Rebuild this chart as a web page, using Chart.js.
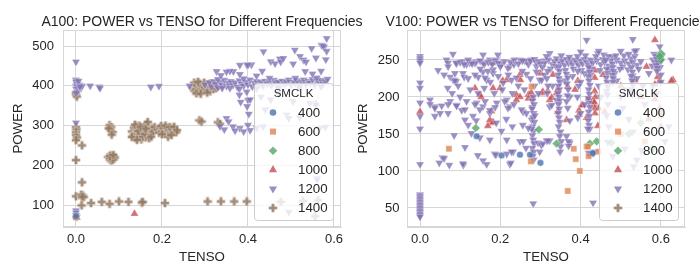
<!DOCTYPE html>
<html><head><meta charset="utf-8">
<script src="https://cdn.jsdelivr.net/npm/chart.js@4/dist/chart.umd.min.js"></script>
<style>
html,body{margin:0;padding:0;background:#fff;}
#wrap{position:relative;width:700px;height:280px;overflow:hidden;}
canvas{position:absolute;top:0;}
#c1{left:0;} #c2{left:350px;}
</style></head><body>
<div id="wrap"><canvas id="c1" width="370" height="280"></canvas><canvas id="c2" width="350" height="280"></canvas></div>
<script>
// ---------- data ----------
const SMCLK_LEVELS = ['400','600','800','1000','1200','1400'];
const X_TICKS = [0.0, 0.2, 0.4, 0.6];
const A100_Y_TICKS = [100, 200, 300, 400, 500];
const V100_Y_TICKS = [50, 100, 150, 200, 250];
const A100_TITLE = 'A100: POWER vs TENSO for Different Frequencies';
const V100_TITLE = 'V100: POWER vs TENSO for Different Frequencies';

// A100  [TENSO, POWER]
const A100_400 = [[0,72]];
const A100_600 = [[0,69]];
const A100_800 = [[0,70]];
const A100_1000 = [[0,72],[0.002,68],[0.136,78],[0.558,355]];
const A100_1200 = [
[0,460],[0,415],[0,410],[0.002,405],[0,400],[0.003,396],[0,392],[0.005,388],[0.008,402],[0.01,398],[0.012,395],[0.004,385],[0,382],[0.014,400],[0.006,412],[0.009,398],[0,307],[0,86],[0,80],[0,74],[0.002,70],
[0.033,400],[0.054,397],[0.056,394],[0.174,397],[0.193,399],[0.264,400],
[0.30,403],[0.31,408],[0.315,398],[0.32,411],[0.325,404],[0.33,396],[0.335,409],[0.34,402],[0.345,414],[0.35,399],[0.355,407],[0.36,411],[0.365,401],[0.37,408],[0.375,397],[0.38,413],[0.385,405],[0.39,400],[0.395,410],[0.40,403],[0.405,415],[0.41,398],[0.415,407],[0.42,411],[0.425,402],[0.43,409],[0.435,399],[0.44,412],[0.445,405],[0.45,408],[0.455,401],[0.46,414],[0.465,406],[0.47,410],[0.475,399],[0.48,412],[0.485,404],[0.49,409],[0.495,415],[0.50,402],[0.505,410],[0.51,406],[0.515,413],[0.52,400],[0.525,409],[0.53,415],[0.535,404],[0.54,411],[0.545,407],[0.55,416],[0.555,402],[0.56,412],[0.565,408],[0.57,414],[0.575,405],[0.58,411],[0.585,417],[0.34,394],[0.38,392],[0.42,393],[0.47,395],[0.52,394],[0.57,398],[0.33,416],[0.39,418],[0.45,419],[0.51,419],[0.56,420],
[0.436,486],[0.397,453],[0.408,453],[0.366,436],[0.381,429],[0.327,436],[0.358,437],[0.453,461],[0.463,456],[0.474,468],[0.476,460],[0.509,490],[0.521,474],[0.529,465],[0.535,460],[0.548,494],[0.558,470],[0.571,502],[0.577,497],[0.581,466],[0.583,519],[0.575,500],[0.583,487],[0.482,469],[0.533,436],[0.433,437],[0.35,435],[0.57,437],[0.505,455],[0.42,425],[0.55,430],[0.381,452],[0.4,452],[0.337,426],
[0.358,394],[0.38,377],[0.397,385],[0.4,364],[0.405,365],[0.398,348],[0.402,329],[0.383,359],[0.453,365],[0.49,327],[0.505,361],[0.544,356],[0.558,352],[0.35,318],[0.355,310],[0.335,298],[0.365,297],[0.381,293],[0.4,301],[0.405,288],[0.42,294],[0.435,297],[0.495,318],[0.52,320],[0.567,293],[0.58,296],[0.56,167],[0.561,164],[0.495,82],[0.345,290],[0.37,287],[0.39,285],[0.44,340],[0.47,380],[0.43,372]
];
const A100_1400 = [
[0,378],[0,383],[0.002,373],[0,296],[0.001,290],[0,283],[0,276],[0.002,270],[0,263],[0.014,250],[0,213],[0.014,157],[0,122],[0.014,118],[0.016,124],[0.012,126],[0.018,120],[0.015,121],[0.013,99],[0.035,105],
[0.078,301],[0.082,296],[0.08,290],[0.085,284],[0.083,277],[0.076,293],
[0.075,221],[0.078,215],[0.08,225],[0.082,212],[0.084,219],[0.086,222],[0.088,216],[0.09,220],[0.08,218],[0.085,214],[0.079,223],[0.087,226],
[0.13,285],[0.133,275],[0.135,295],[0.138,268],[0.14,280],[0.142,290],[0.145,272],[0.147,300],[0.15,283],[0.152,265],[0.155,292],[0.157,277],[0.16,287],[0.162,270],[0.164,303],[0.165,281],[0.168,295],[0.17,275],[0.172,288],[0.175,280],[0.177,293],[0.14,298],[0.148,276],[0.158,296],[0.167,309],[0.137,302],[0.155,272],[0.145,286],[0.16,279],[0.17,268],[0.15,297],[0.162,292],[0.13,271],[0.142,264],[0.175,272],[0.18,285],[0.183,296],
[0.19,290],[0.193,282],[0.196,295],[0.2,286],[0.203,291],[0.206,279],[0.21,294],[0.213,285],[0.216,289],[0.22,281],[0.223,292],[0.226,286],[0.23,290],[0.233,283],[0.198,299],[0.208,300],[0.218,296],[0.228,297],[0.214,272],[0.235,288],[0.2,278],[0.222,276],
[0.272,395],[0.275,388],[0.278,402],[0.28,392],[0.283,398],[0.285,385],[0.288,405],[0.29,393],[0.293,400],[0.296,389],[0.3,396],[0.303,403],[0.306,391],[0.309,398],[0.312,386],[0.315,395],[0.318,401],[0.32,392],[0.323,399],[0.326,394],[0.329,400],[0.28,381],[0.29,380],[0.305,383],[0.275,408],[0.298,408],[0.31,405],[0.284,410],
[0.287,313],[0.292,310],[0.33,308],[0.335,304],
[0.06,108],[0.078,103],[0.1,109],[0.122,108],[0.153,106],[0.155,108],[0.207,105],[0.306,109],[0.337,109],[0.368,109],[0.397,109],[0.476,108],[0.528,110],[0.563,112],[0.556,72]
];

// V100  [TENSO, POWER]
const V100_400 = [[0.141,147],[0.203,121],[0.249,122],[0.274,122],[0.3,111],[0.43,124]];
const V100_600 = [[0.278,214],[0.072,130],[0.276,113],[0.383,130],[0.388,116],[0.398,100],[0.368,73],[0.415,133],[0.42,120],[0.445,126],[0.418,133],[0.5,150],[0.56,140],[0.6,175]];
const V100_800 = [[0.139,158],[0.296,156],[0.34,137],[0.423,137],[0.44,140],[0.6,259],[0.6,250],[0.597,255],[0.477,138],[0.52,150],[0.55,165],[0.58,130]];
const V100_1000 = [
[0,180],[0.18,246],[0.137,212],[0.149,203],[0.152,200],[0.199,212],[0.206,222],[0.178,181],[0.178,165],[0.169,161],[0.249,230],[0.25,223],[0.24,203],[0.249,200],[0.27,203],[0.27,198],[0.277,206],[0.3,232],[0.303,205],[0.28,198],[0.182,212],[0.216,223],[0.24,196],[0.306,207],[0.331,230],[0.34,205],[0.323,196],[0.328,199],[0.368,214],[0.396,182],[0.396,176],[0.403,189],[0.436,236],[0.433,190],[0.456,230],[0.43,195],[0.445,185],[0.46,180],[0.535,223],[0.564,241],[0.585,277],[0.59,241],[0.592,227],[0.597,222],[0.63,223],[0.174,169],[0.182,166],[0.343,180],[0.365,169],[0.393,222],[0.435,226],[0.435,208],[0.437,200],[0.434,193],[0.405,189],[0.435,185],[0.436,178],[0.42,198],[0.386,210],[0.343,210],[0.318,208],[0.585,203],[0.585,197],[0.597,185],[0.585,217],[0.626,222],[0.415,172],[0.443,161],[0.57,170],[0.6,160],[0.55,200],[0.5,215]
];
const V100_1200 = [
[0,255],[0,252],[0,249],[0,246],[0,219],[0,212],[0,192],[0,174],[0,157],[0,109],
[0,68],[0,66],[0,64],[0,62],[0,60],[0,58],[0,56],[0,54],[0,52],[0,50],[0,48],[0,46],[0,44],[0,42],[0,40],[0,38],
[0.066,250],[0.07,246],[0.091,245],[0.07,241],[0.107,248],[0.045,236],[0.075,227],[0.083,223],[0.09,221],[0.124,246],[0.141,248],[0.157,257],[0.145,227],[0.157,234],[0.174,250],[0.19,250],[0.166,223],[0.182,232],[0.207,219],[0.224,241],[0.249,250],[0.265,248],[0.29,241],[0.323,259],[0.298,223],[0.348,248],[0.415,277],[0.443,259],[0.48,254],[0.53,278],[0.539,263],[0.597,268],[0.626,250],
[0.025,196],[0.037,187],[0.05,178],[0.075,194],[0.091,189],[0.104,182],[0.116,194],[0.141,192],[0.157,187],[0.174,178],[0.191,192],[0.216,196],[0.224,187],[0.257,180],[0.323,187],[0.34,196],[0.373,200],
[0.082,258],[0.09,246],[0.069,212],[0.087,232],[0.087,222],[0.107,232],[0.11,227],[0.116,244],[0.128,247],[0.137,246],[0.137,230],[0.157,246],[0.169,235],[0.162,226],[0.182,237],[0.187,249],[0.194,257],[0.203,244],[0.21,248],[0.219,239],[0.228,223],[0.234,244],[0.24,226],[0.261,249],[0.265,231],[0.277,250],[0.29,246],[0.31,249],[0.303,223],[0.29,234],
[0.025,190],[0.037,185],[0.037,174],[0.054,188],[0.07,190],[0.07,178],[0.091,188],[0.112,183],[0.112,169],[0.132,174],[0.137,190],[0.149,183],[0.162,194],[0.174,182],[0.187,186],[0.211,194],[0.219,185],[0.234,190],[0.253,183],[0.265,178],[0.278,169],[0.28,186],
[0.282,200],[0.28,195],[0.284,190],[0.279,184],[0.283,178],[0.281,172],[0.285,166],[0.28,160],[0.283,154],[0.28,148],[0.282,142],[0.284,137],[0.28,131],[0.283,126],[0.281,120],[0.283,115],[0.286,175],[0.278,157],
[0.31,246],[0.32,250],[0.33,244],[0.335,248],[0.34,252],[0.35,245],[0.355,249],[0.36,243],[0.365,251],[0.37,246],[0.375,248],[0.38,244],[0.385,250],[0.39,247],[0.395,243],[0.40,249],[0.405,245],[0.41,251],[0.415,247],[0.42,243],[0.425,250],[0.43,246],[0.44,249],[0.45,244],[0.455,251],[0.46,247],[0.47,242],[0.475,249],[0.48,245],[0.49,250],[0.5,246],[0.505,241],[0.51,249],[0.52,245],[0.525,252],[0.53,247],[0.54,243],[0.55,248],[0.58,250],[0.585,247],[0.59,253],[0.595,244],[0.6,249],[0.225,247],[0.235,250],[0.245,245],[0.255,249],[0.27,244],[0.275,249],[0.285,251],[0.295,248],[0.3,245],[0.1,247],[0.11,244],[0.12,250],[0.13,245],[0.15,249],[0.16,244],[0.17,247],[0.18,244],[0.195,246],[0.2,241],
[0.305,240],[0.315,255],[0.325,238],[0.338,242],[0.352,256],[0.362,236],[0.372,254],[0.382,238],[0.392,255],[0.402,236],[0.412,256],[0.428,238],[0.438,255],[0.448,236],[0.458,257],[0.472,236],[0.488,256],[0.498,238],[0.508,256],[0.518,237],[0.535,255],[0.545,238],[0.578,242],[0.583,258],[0.598,240],[0.603,256],[0.365,231],[0.425,230],[0.485,232],[0.53,229],[0.445,262],[0.5,262],[0.4,261],
[0.06,230],[0.08,205],[0.095,215],[0.1,200],[0.12,225],[0.125,210],[0.145,205],[0.15,238],[0.16,212],[0.175,220],[0.185,205],[0.195,228],[0.205,210],[0.22,230],[0.23,205],[0.245,215],[0.255,235],[0.26,210],[0.275,225],[0.285,215],[0.295,205],[0.31,230],[0.33,215],[0.36,222],[0.38,228],[0.4,220],[0.41,232],[0.445,215],[0.45,200],[0.49,222],[0.51,210],[0.54,225],[0.555,215],[0.57,232],[0.6,230],[0.6,220],
[0.345,240],[0.347,235],[0.344,230],[0.346,225],[0.348,220],[0.345,215],[0.347,210],[0.344,205],[0.346,200],[0.348,195],[0.345,190],[0.347,184],[0.344,178],[0.346,172],[0.348,166],[0.345,160],[0.35,153],[0.348,147],[0.352,140],[0.35,133],[0.349,126],
[0.42,240],[0.422,234],[0.419,228],[0.421,222],[0.423,216],[0.42,210],[0.422,204],[0.419,198],[0.421,192],[0.423,186],[0.42,180],[0.422,174],[0.419,168],[0.421,162],[0.423,157],[0.42,124],[0.418,157],
[0.465,238],[0.467,232],[0.464,226],[0.466,220],[0.468,214],[0.465,208],[0.467,203],[0.47,255],[0.462,250],
[0.468,190],[0.465,175],[0.47,160],[0.468,139],[0.5,200],[0.505,185],[0.53,153],[0.532,106],[0.552,128],[0.52,170],[0.56,190],[0.58,215],[0.59,205],[0.6,180],[0.62,160],[0.61,140],[0.48,120],[0.51,130],[0.54,115],
[0.527,240],[0.529,234],[0.526,228],[0.528,222],[0.53,216],[0.527,210],[0.529,204],[0.52,258],[0.535,262],
[0.588,255],[0.59,251],[0.592,247],[0.589,243],[0.591,239],[0.59,235],
[0.48,240],[0.482,235],[0.479,230],[0.481,225],[0.48,220],
[0.368,226],[0.366,218],[0.369,210],[0.367,202],[0.365,194],[0.368,185],
[0.393,172],[0.392,200],[0.395,215],[0.393,235],
[0.318,235],[0.316,225],[0.319,215],[0.317,205],
[0.085,148],[0.112,132],[0.128,151],[0.056,118],[0.048,111],[0.073,108],[0.108,108],[0.144,121],[0.157,114],[0.166,109],[0.149,145],[0.174,142],[0.186,123],[0.203,154],[0.216,142],[0.216,123],[0.224,109],[0.232,126],[0.249,140],[0.257,140],[0.264,131],[0.294,138],[0.302,135],[0.315,141],[0.282,56],[0.06,117],[0.107,110],[0.189,122],[0.226,111],[0.228,126],[0.298,126],[0.306,137],[0.323,141],[0.373,138],[0.431,57],[0.431,124],[0.318,141],[0.365,147],[0.37,140],[0.37,134],[0.423,124],[0.435,126],
[0.12,162],[0.256,162],[0.27,158],[0.14,168],[0.19,165],[0.23,160],[0.215,170],[0.328,189],[0.373,168],[0.4,178],[0.41,190]
];
const V100_1400 = [];

// ---------- styling ----------
const FONT = "'Liberation Sans', Arial, Helvetica, sans-serif";
const TXT = '#262626';
const GRID = '#d6d6d6';
const STY = {
  '400':  {rgb:'76,114,176',  shape:'circle',   r:3.3, rot:0, order:0},
  '600':  {rgb:'221,132,82',  shape:'rect',     r:4.3, rot:0, order:1},
  '800':  {rgb:'85,168,104',  shape:'rectRot',  r:4.3, rot:0, order:2},
  '1000': {rgb:'196,78,82',   shape:'triangle', r:4.7, rot:0, order:4},
  '1200': {rgb:'129,114,179', shape:'triangle', r:4.7, rot:180, order:3},
  '1400': {rgb:'147,120,96',  shape:'plus',     r:4.5, rot:0, order:5}
};
function plusPath(g, cx, cy, a, t) {
  g.beginPath();
  g.moveTo(cx - t, cy - a); g.lineTo(cx + t, cy - a); g.lineTo(cx + t, cy - t);
  g.lineTo(cx + a, cy - t); g.lineTo(cx + a, cy + t); g.lineTo(cx + t, cy + t);
  g.lineTo(cx + t, cy + a); g.lineTo(cx - t, cy + a); g.lineTo(cx - t, cy + t);
  g.lineTo(cx - a, cy + t); g.lineTo(cx - a, cy - t); g.lineTo(cx - t, cy - t);
  g.closePath();
}
function plusCanvas(rgb) {
  const c = document.createElement('canvas');
  c.width = 10; c.height = 10;
  const g = c.getContext('2d');
  plusPath(g, 5, 5, 4.3, 1.6);
  g.fillStyle = 'rgba(' + rgb + ',0.85)'; g.fill();
  g.strokeStyle = 'rgba(255,255,255,0.6)'; g.lineWidth = 0.5; g.stroke();
  return c;
}
const PLUS_IMG = plusCanvas(STY['1400'].rgb);

function makeDatasets(seriesList) {
  return SMCLK_LEVELS.map((lvl, i) => {
    const s = STY[lvl];
    return {
      label: lvl,
      order: s.order,
      data: seriesList[i].map(p => ({x: p[0], y: p[1]})),
      pointStyle: s.shape === 'plus' ? PLUS_IMG : s.shape,
      pointRadius: s.r,
      pointRotation: s.rot,
      backgroundColor: 'rgba(' + s.rgb + ',0.8)',
      borderColor: 'rgba(255,255,255,0.6)',
      borderWidth: 0.5,
      showLine: false
    };
  });
}

function drawMarker(ctx, lvl, x, y) {
  const s = STY[lvl];
  ctx.save();
  ctx.fillStyle = 'rgba(' + s.rgb + ',0.8)';
  ctx.beginPath();
  if (s.shape === 'circle') { ctx.arc(x, y, s.r, 0, Math.PI * 2); }
  else if (s.shape === 'rect') { const h = s.r * Math.SQRT1_2; ctx.rect(x - h, y - h, 2 * h, 2 * h); }
  else if (s.shape === 'rectRot') { ctx.moveTo(x, y - s.r); ctx.lineTo(x + s.r, y); ctx.lineTo(x, y + s.r); ctx.lineTo(x - s.r, y); ctx.closePath(); }
  else if (s.shape === 'triangle') {
    const d = s.rot ? -1 : 1;
    ctx.moveTo(x, y - d * s.r);
    ctx.lineTo(x + s.r * 0.866, y + d * s.r * 0.5);
    ctx.lineTo(x - s.r * 0.866, y + d * s.r * 0.5);
    ctx.closePath();
  } else { ctx.drawImage(PLUS_IMG, x - 5, y - 5); ctx.restore(); return; }
  ctx.fill();
  ctx.restore();
}

const decorPlugin = {
  id: 'decor',
  beforeDatasetsDraw(chart) {
    const a = chart.chartArea, ctx = chart.ctx;
    ctx.save();
    ctx.strokeStyle = GRID; ctx.lineWidth = 1;
    ctx.strokeRect(Math.round(a.left) + 0.5, Math.round(a.top) + 0.5, Math.round(a.right - a.left) - 1, Math.round(a.bottom - a.top) - 1);
    ctx.restore();
  },
  afterDraw(chart, args, opts) {
    const a = chart.chartArea, ctx = chart.ctx;
    ctx.save();
    // title
    ctx.fillStyle = TXT;
    ctx.font = '14px ' + FONT;
    ctx.textAlign = 'center'; ctx.textBaseline = 'alphabetic';
    ctx.fillText(opts.title, (a.left + a.right) / 2, 26);
    // legend
    const b = opts.box;
    ctx.beginPath();
    if (ctx.roundRect) ctx.roundRect(b.x + 0.5, b.y + 0.5, b.w, b.h, 3); else ctx.rect(b.x + 0.5, b.y + 0.5, b.w, b.h);
    ctx.fillStyle = 'rgba(255,255,255,0.8)'; ctx.fill();
    ctx.strokeStyle = '#cccccc'; ctx.lineWidth = 1; ctx.stroke();
    ctx.fillStyle = TXT;
    ctx.font = '11.5px ' + FONT;
    ctx.textAlign = 'center'; ctx.textBaseline = 'middle';
    ctx.fillText('SMCLK', b.x + b.w / 2, b.y + 11);
    ctx.font = '13.3px ' + FONT;
    ctx.textAlign = 'left';
    SMCLK_LEVELS.forEach((lvl, i) => {
      const yy = b.y + 29.5 + i * 19.1;
      drawMarker(ctx, lvl, b.x + 19, yy);
      ctx.fillStyle = TXT;
      ctx.fillText(lvl, b.x + 44, yy + 0.5);
    });
    ctx.restore();
  }
};

function makeChart(id, series, cfg) {
  return new Chart(document.getElementById(id), {
    type: 'scatter',
    data: {datasets: makeDatasets(series)},
    plugins: [decorPlugin],
    options: {
      responsive: false, animation: false, devicePixelRatio: 1,
      layout: {padding: {left: 0, right: cfg.padRight, top: 30, bottom: 0}},
      plugins: {
        legend: {display: false}, tooltip: {enabled: false},
        decor: {title: cfg.title, box: cfg.box}
      },
      scales: {
        x: {
          type: 'linear', min: cfg.xMin, max: cfg.xMax,
          afterBuildTicks: s => { s.ticks = X_TICKS.map(v => ({value: v})); },
          afterFit: s => { s.height = 53; },
          grid: {color: GRID, lineWidth: 1, drawTicks: false},
          border: {display: true, color: GRID},
          ticks: {padding: 5, color: TXT, font: {family: FONT, size: 13}, callback: v => Number(v).toFixed(1), maxRotation: 0},
          title: {display: true, text: 'TENSO', color: TXT, font: {family: FONT, size: 13.3}, padding: {top: 0, bottom: 15}}
        },
        y: {
          type: 'linear', min: cfg.yMin, max: cfg.yMax,
          afterBuildTicks: s => { s.ticks = cfg.yTicks.map(v => ({value: v})); },
          afterFit: s => { s.width = cfg.yWidth; },
          grid: {color: GRID, lineWidth: 1, drawTicks: false},
          border: {display: true, color: GRID},
          ticks: {padding: cfg.yTickPad, color: TXT, font: {family: FONT, size: 13}, callback: v => String(Math.round(v))},
          title: {display: true, text: 'POWER', color: TXT, font: {family: FONT, size: 13.3}, padding: {top: cfg.yTitlePad, bottom: 0}}
        }
      }
    }
  });
}

makeChart('c1', [A100_400, A100_600, A100_800, A100_1000, A100_1200, A100_1400], {
  title: A100_TITLE, padRight: 29, yWidth: 63, yTickPad: 9, yTitlePad: 10.5,
  xMin: -0.0302, xMax: 0.6163, yMin: 44.7, yMax: 540.3, yTicks: A100_Y_TICKS,
  box: {x: 254, y: 83, w: 79, h: 137}
});
makeChart('c2', [V100_400, V100_600, V100_800, V100_1000, V100_1200, V100_1400], {
  title: V100_TITLE, padRight: 15, yWidth: 57, yTickPad: 7.5, yTitlePad: 5,
  xMin: -0.0324, xMax: 0.66, yMin: 24.3, yMax: 290.5, yTicks: V100_Y_TICKS,
  box: {x: 249, y: 83, w: 79, h: 137}
});
</script>
</body></html>
